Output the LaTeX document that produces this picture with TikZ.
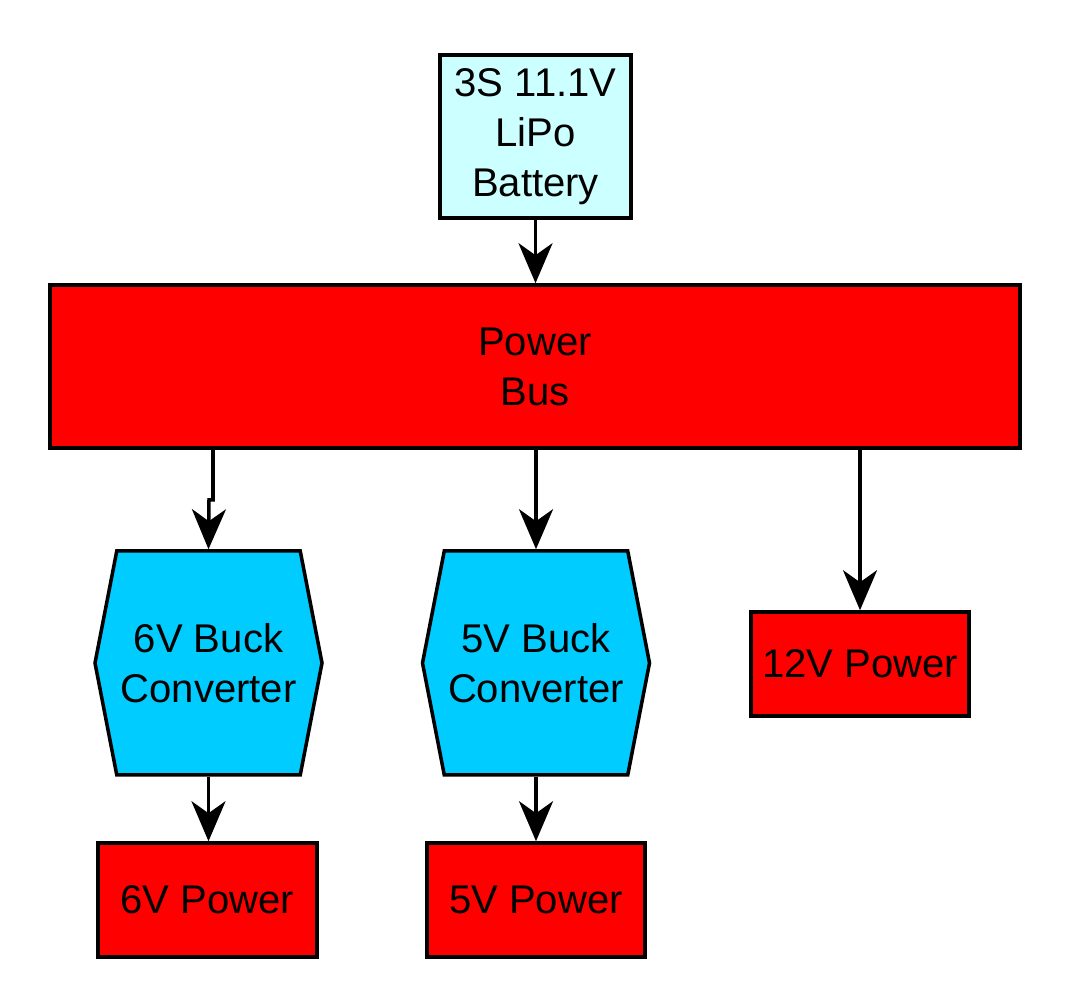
\documentclass[tikz,border=0pt]{standalone}
\usepackage{fontspec}
\setmainfont{Liberation Sans}
\usepackage{tikz}
\usetikzlibrary{arrows.meta,positioning,calc,shapes.symbols}

\definecolor{battcyan}{HTML}{CCFFFF}
\definecolor{buckblue}{HTML}{00CCFF}
\definecolor{busred}{HTML}{FF0000}

\tikzset{
  blk/.style={draw,line width=1pt,inner sep=0pt,align=center,
    font=\fontsize{11.4}{14.2}\selectfont},
  rail/.style={blk,fill=busred},
  buck/.style={blk,fill=buckblue,signal,signal to=east and west,
    signal pointer angle=158,minimum width=2.27cm,minimum height=2.24cm},
  link/.style={line width=1pt,-{Stealth[length=.4cm,width=.34cm,inset=.12cm]}}
}

\begin{document}
\begin{tikzpicture}
\useasboundingbox (0,0) rectangle (10.72,10);
\node[blk,fill=battcyan,minimum width=1.91cm,minimum height=1.63cm] (bat) at (5.355,8.635) {3S 11.1V\\LiPo\\Battery};
\node[rail,minimum width=9.7cm,minimum height=1.63cm] (bus) at (5.35,6.335) {Power\\Bus};
\node[buck] (buck6) at (2.085,3.37) {6V Buck\\Converter};
\node[buck] (buck5) at (5.36,3.37) {5V Buck\\Converter};
\node[rail,minimum width=2.18cm,minimum height=1.04cm] (p12) at (8.6,3.36) {12V Power};
\node[rail,minimum width=2.19cm,minimum height=1.14cm] (p6) at (2.075,1) {6V Power};
\node[rail,minimum width=2.18cm,minimum height=1.14cm] (p5) at (5.36,1) {5V Power};
% supply
\draw[link] (bat.south) -- (bat.south |- bus.north);
% bus taps
\coordinate (k6) at (2.13,5);
\draw[link] (bus.south -| k6) -- (k6) -- ++(-.04,0) -- (buck6.north);
\draw[link] (bus.south -| buck5.north) -- (buck5.north);
\draw[link] (bus.south -| p12.north) -- (p12.north);
% outputs
\draw[link] (buck6.south) -- (p6.north -| buck6.south);
\draw[link] (buck5.south) -- (p5.north -| buck5.south);
\end{tikzpicture}
\end{document}
